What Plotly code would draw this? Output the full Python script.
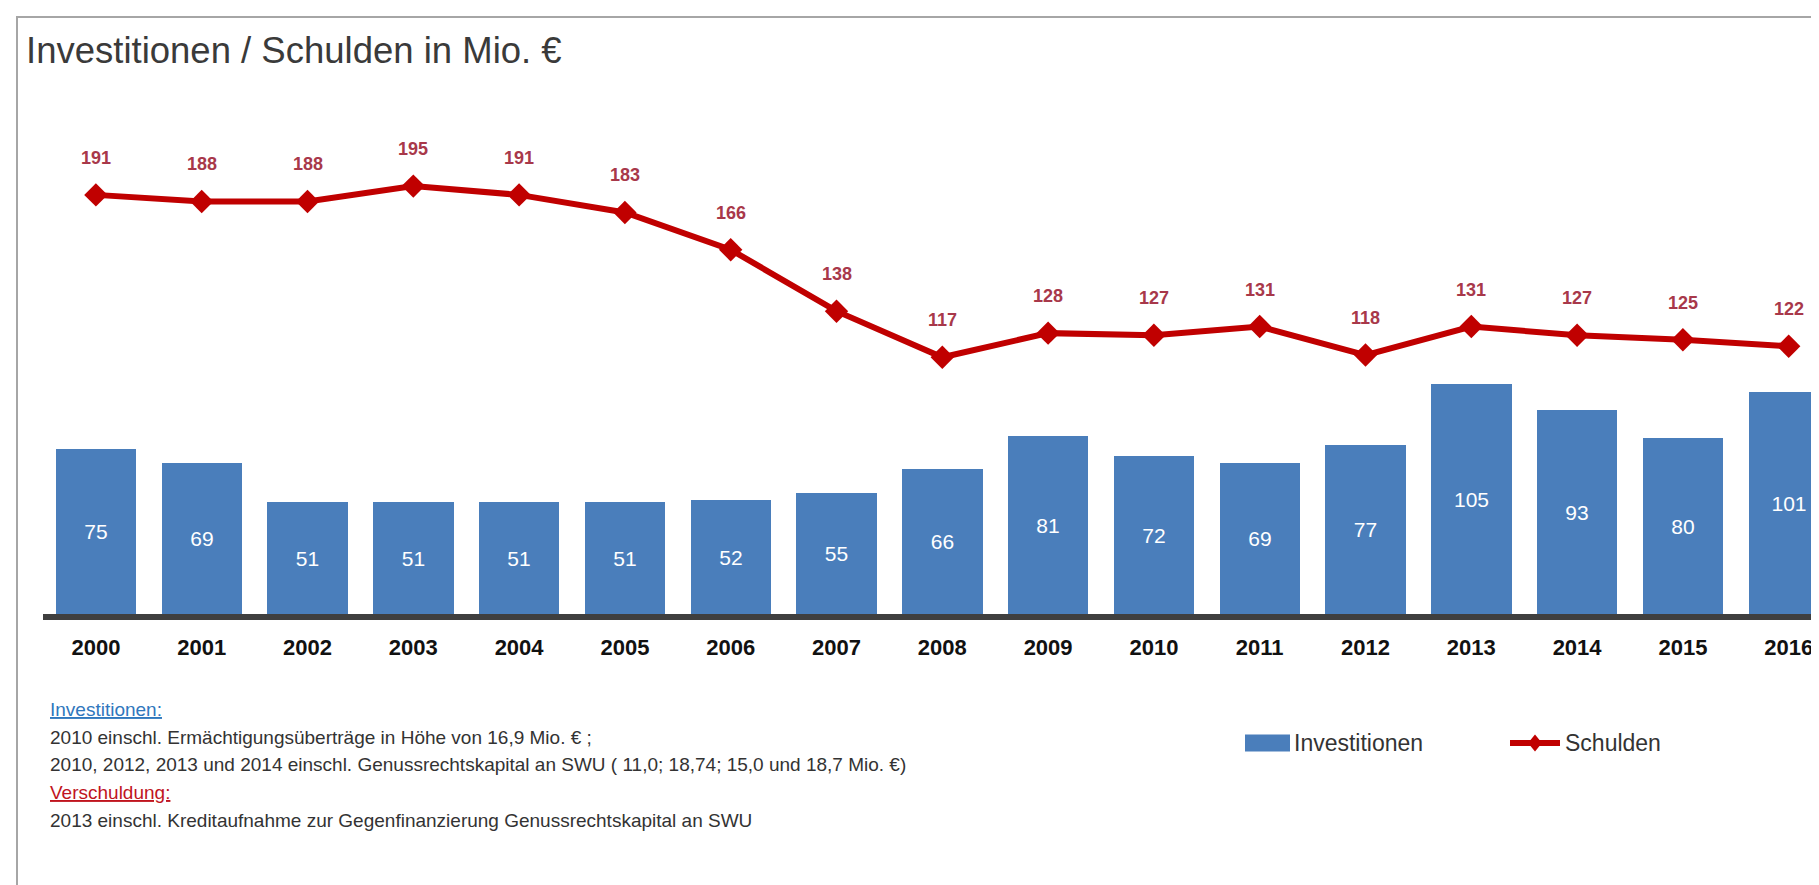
import plotly.graph_objects as go

# ---- data ----
years = [2000, 2001, 2002, 2003, 2004, 2005, 2006, 2007, 2008,
         2009, 2010, 2011, 2012, 2013, 2014, 2015, 2016]
investitionen = [75, 69, 51, 51, 51, 51, 52, 55, 66, 81, 72, 69, 77, 105, 93, 80, 101]
schulden = [191, 188, 188, 195, 191, 183, 166, 138, 117, 128, 127, 131, 118, 131, 127, 125, 122]
year_labels = [str(y) for y in years]

title_text = "Investitionen / Schulden in Mio. €"
footnotes = [
    ("<u>Investitionen:</u>", "#2f77bd"),
    ("2010 einschl. Ermächtigungsüberträge in Höhe von 16,9 Mio. € ;", "#333333"),
    ("2010, 2012, 2013 und 2014 einschl. Genussrechtskapital an SWU ( 11,0; 18,74; 15,0 und 18,7 Mio. €)", "#333333"),
    ("<u>Verschuldung:</u>", "#c0141e"),
    ("2013 einschl. Kreditaufnahme zur Gegenfinanzierung Genussrechtskapital an SWU", "#333333"),
]

# ---- geometry ----
W, H = 1819, 885
L, R_, T, B = 35, 0, 64, 279
PW, PH = W - L - R_, H - T - B
BASE_Y = H - B

def px_x(px):
    return (px - L) / PW

def px_y(py):
    return (BASE_Y - py) / PH

REG = "Liberation Sans, Arial, sans-serif"

BLUE = "#4a7ebb"
RED = "#c00000"
LABEL_RED = "#a8384a"

fig = go.Figure()
fig.add_trace(go.Bar(
    x=years, y=investitionen, width=0.76,
    marker=dict(color=BLUE, line=dict(width=0)),
    text=[str(v) for v in investitionen],
    textposition="inside", insidetextanchor="middle", textangle=0,
    textfont=dict(color="white", size=21, family=REG),
    name="Investitionen", showlegend=False,
))
fig.add_trace(go.Scatter(
    x=years, y=schulden, mode="lines+markers",
    line=dict(color=RED, width=6),
    marker=dict(symbol="diamond", size=18, color=RED),
    name="Schulden", showlegend=False,
))

annotations = []
for yr, v in zip(years, schulden):
    annotations.append(dict(
        x=yr, y=v, xref="x", yref="y", text=str(v), showarrow=False,
        yshift=37, xanchor="center", yanchor="middle",
        font=dict(family=REG, size=18, color=LABEL_RED, weight="bold"),
    ))

# footnotes
fn_y = [701, 729, 757, 784, 812]
for (txt, col), py in zip(footnotes, fn_y):
    annotations.append(dict(
        x=px_x(40), y=px_y(py), xref="paper", yref="paper", text=txt,
        showarrow=False, xanchor="left", yanchor="middle",
        font=dict(family=REG, size=19, color=col),
    ))

# legend texts
leg_y = 735
annotations.append(dict(x=px_x(1284), y=px_y(leg_y), xref="paper", yref="paper",
                        text="Investitionen", showarrow=False, xanchor="left", yanchor="middle",
                        font=dict(family=REG, size=23, color="#333333")))
annotations.append(dict(x=px_x(1555), y=px_y(leg_y), xref="paper", yref="paper",
                        text="Schulden", showarrow=False, xanchor="left", yanchor="middle",
                        font=dict(family=REG, size=23, color="#333333")))

shapes = [
    # frame
    dict(type="rect", xref="paper", yref="paper",
         x0=px_x(9), x1=px_x(1840), y0=px_y(905), y1=px_y(9),
         line=dict(color="#a6a6a6", width=2), fillcolor="rgba(0,0,0,0)", layer="below"),
    # legend: blue box
    dict(type="rect", xref="paper", yref="paper",
         x0=px_x(1237), x1=px_x(1282), y0=px_y(leg_y + 8.5), y1=px_y(leg_y - 8.5),
         line=dict(width=0), fillcolor=BLUE),
    # legend: red line
    dict(type="line", xref="paper", yref="paper",
         x0=px_x(1502), x1=px_x(1552), y0=px_y(leg_y), y1=px_y(leg_y),
         line=dict(color=RED, width=6)),
]
cx, cy, dx, dy = 1527, leg_y, 7, 8.5
shapes.append(dict(
    type="path", xref="paper", yref="paper",
    path=(f"M {px_x(cx-dx)},{px_y(cy)} L {px_x(cx)},{px_y(cy-dy)} "
          f"L {px_x(cx+dx)},{px_y(cy)} L {px_x(cx)},{px_y(cy+dy)} Z"),
    line=dict(width=0), fillcolor=RED))

fig.update_layout(
    width=W, height=H,
    margin=dict(l=L, r=R_, t=T, b=B, pad=0),
    paper_bgcolor="white", plot_bgcolor="white",
    title=dict(text=title_text, xref="container", yref="container",
               x=18 / W, xanchor="left", y=1 - 42 / H, yanchor="middle",
               font=dict(family=REG, size=36.5, color="#3a3a3a")),
    xaxis=dict(range=[1999.5, 1999.5 + PW / 105.8], tickvals=years, ticktext=year_labels,
               showgrid=False, zeroline=False, showline=True, linecolor="#3f3f3f", linewidth=6,
               ticks="", ticklabelstandoff=9,
               tickfont=dict(family=REG, size=22, color="#111111", weight="bold")),
    yaxis=dict(range=[0, 247], visible=False, showgrid=False, zeroline=False),
    annotations=annotations, shapes=shapes,
    showlegend=False, bargap=0,
)

fig.write_html("out.html")
